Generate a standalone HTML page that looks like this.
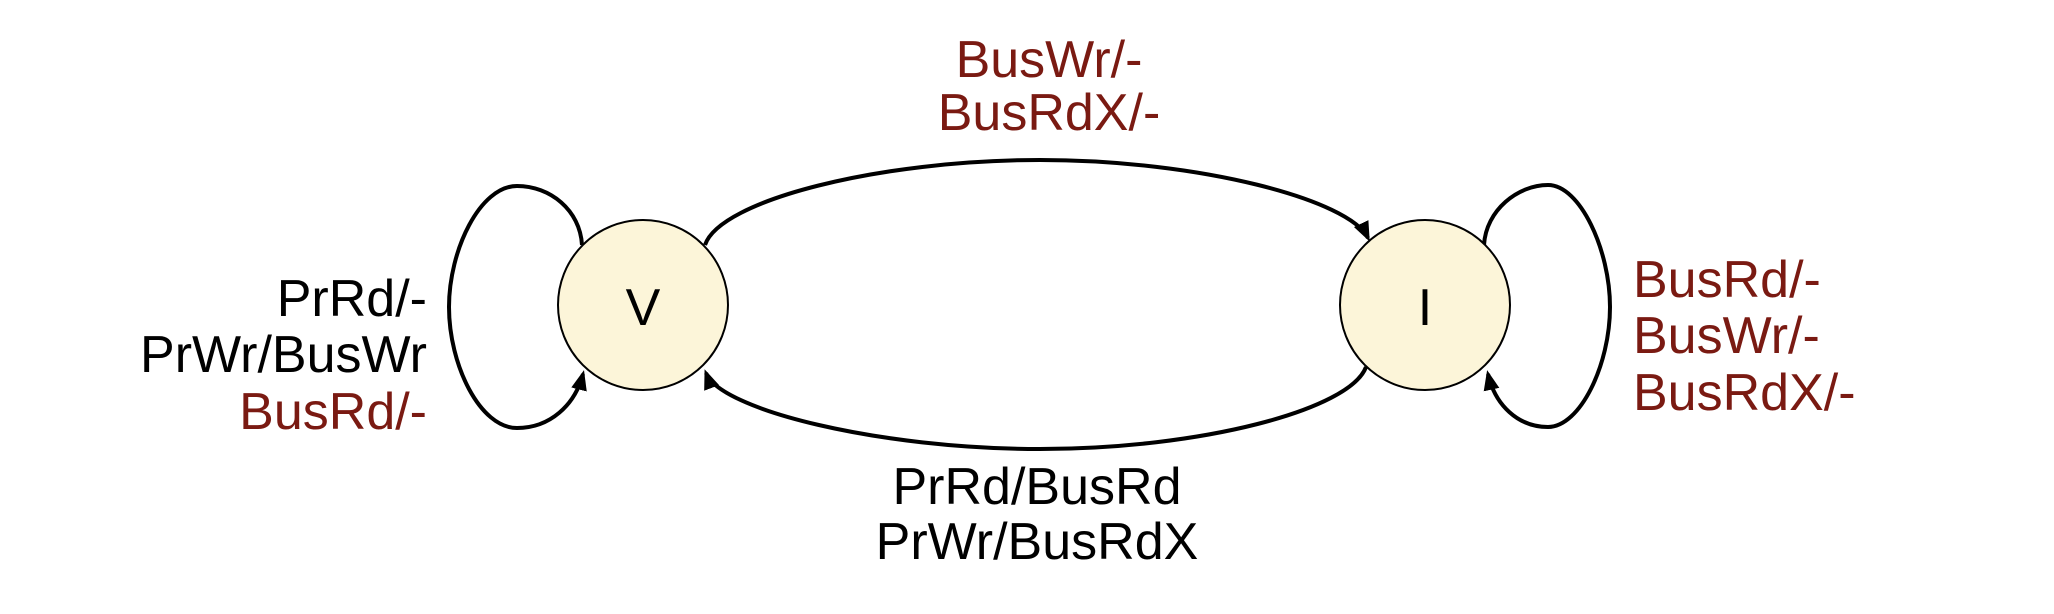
<!DOCTYPE html>
<html><head><meta charset="utf-8"><style>
html,body{margin:0;padding:0;background:#fff;}
svg{display:block;}
text{font-family:"Liberation Sans",sans-serif;font-size:52px;}
</style></head><body>
<svg width="2054" height="614" viewBox="0 0 2054 614" xmlns="http://www.w3.org/2000/svg">
<defs>
<marker id="a" markerWidth="10" markerHeight="10" refX="8" refY="5" orient="auto" markerUnits="userSpaceOnUse" viewBox="0 0 10 10">
<path d="M0,0 L10,5 L0,10 z" fill="#000"/>
</marker>
<marker id="b" markerWidth="20" markerHeight="20" refX="16" refY="10" orient="auto" markerUnits="userSpaceOnUse" viewBox="0 0 20 20">
<path d="M0,2 L20,10 L0,18 z" fill="#000"/>
</marker>
</defs>
<g fill="none" stroke="#000" stroke-width="4">
<path d="M705,245 C720,200 880,160 1040,160 C1200,160 1350,200 1368,238" marker-end="url(#b)"/>
<path d="M1366,367 C1350,410 1200,449 1040,449 C880,449 720,410 706,373" marker-end="url(#b)"/>
<path d="M582,245 C580,210 550,186 517,186 C480,186 449,250 449,307 C449,365 480,428 517,428 C550,428 575,405 583,374" marker-end="url(#b)"/>
<path d="M1484,245 C1486,210 1518,185 1548,185 C1580,185 1610,250 1610,307 C1610,365 1580,427 1548,427 C1518,427 1495,405 1488,374" marker-end="url(#b)"/>
</g>
<circle cx="643" cy="305" r="85" fill="#fcf5d9" stroke="#000" stroke-width="2"/>
<circle cx="1425" cy="305" r="85" fill="#fcf5d9" stroke="#000" stroke-width="2"/>
<text x="643" y="325" text-anchor="middle" font-size="50">V</text>
<text x="1425" y="325" text-anchor="middle" font-size="50">I</text>
<g fill="#7a1a12">
<text x="1049" y="77" text-anchor="middle">BusWr/-</text>
<text x="1049" y="130" text-anchor="middle">BusRdX/-</text>
<text x="1633" y="297">BusRd/-</text>
<text x="1633" y="353">BusWr/-</text>
<text x="1633" y="410">BusRdX/-</text>
<text x="427" y="429" text-anchor="end">BusRd/-</text>
</g>
<text x="427" y="316" text-anchor="end">PrRd/-</text>
<text x="427" y="372" text-anchor="end">PrWr/BusWr</text>
<text x="1037" y="504" text-anchor="middle">PrRd/BusRd</text>
<text x="1037" y="559" text-anchor="middle">PrWr/BusRdX</text>
</svg>
</body></html>
